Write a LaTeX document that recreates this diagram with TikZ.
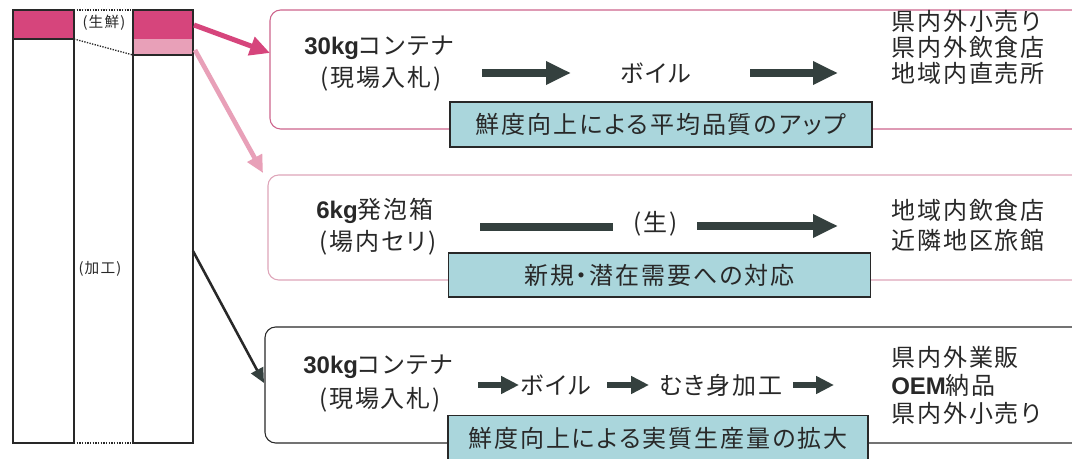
\documentclass[tikz,border=0pt]{standalone}
\usepackage{fontspec}
\setmainfont{Noto Sans CJK JP}[LetterSpace=8,RawFeature=+palt]
\newfontfamily\lat{Liberation Sans}
\usetikzlibrary{arrows.meta,fit}
\definecolor{dpink}{RGB}{214,69,124}
\definecolor{lpink}{RGB}{232,160,184}
\definecolor{bonec}{RGB}{205,100,140}
\definecolor{btwoc}{RGB}{222,165,185}
\definecolor{lblfill}{RGB}{170,214,220}
\definecolor{darr}{RGB}{52,64,62}
\definecolor{ink}{RGB}{40,40,40}
\tikzset{
  barline/.style={draw=ink, line width=0.9pt},
  dotline/.style={draw=ink, line width=1pt, dash pattern=on 1pt off 1pt},
  small/.style={font=\fontsize{11}{12}\selectfont, inner sep=0pt, text=ink},
  txt/.style={font=\fontsize{18}{20}\selectfont, inner sep=0pt, text=ink},
  bigbox/.style={rounded corners=8pt, inner sep=0pt, line width=0.8pt},
  lbl/.style={draw=ink, fill=lblfill, line width=0.9pt, inner sep=0pt,
    font=\fontsize{18}{20}\selectfont, text=ink},
  fatarrow/.style={draw=darr, line width=6pt, -{Triangle[length=18.75pt,width=16.5pt]}},
  fatline/.style={draw=darr, line width=5.5pt},
  midarrow/.style={draw=darr, line width=5.5pt, -{Triangle[length=18.75pt,width=16.5pt]}},
  slimarrow/.style={draw=darr, line width=5pt, -{Triangle[length=13.5pt,width=12.75pt]}},
  pinkarrow/.style={draw=dpink, line width=3.75pt, -{Triangle[length=15pt,width=14pt]}},
  lpinkarrow/.style={draw=lpink, line width=3.5pt, -{Triangle[length=13pt,width=12pt]}},
  blackarrow/.style={draw=ink, line width=1.9pt, -{Triangle[length=11pt,width=10pt,fill=darr,color=darr]}},
}
\begin{document}
\begin{tikzpicture}[x=0.75pt,y=-0.75pt]
\useasboundingbox (0,0) rectangle (1072,459);
\clip (0,0) rectangle (1072,459);
\fill[white] (0,0) rectangle (1072,459);

% ---- left bars ----
\fill[dpink] (13,10) rectangle (74,39);
\draw[barline] (13,10) rectangle (74,443);
\draw[barline] (13,39) -- (74,39);
\fill[dpink] (133,10) rectangle (193,39);
\fill[lpink] (133,39) rectangle (193,55);
\draw[barline] (133,10) rectangle (193,443);
\draw[barline] (133,55) -- (193,55);
\draw[dotline] (74,10) -- (133,10);
\draw[dotline] (74,39) -- (133,55);
\draw[dotline] (74,443) -- (133,443);
\node[small] (fresh) at (104,23) {(生鮮)};
\node[small] (proc) at (100,269) {(加工)};

% ---- big boxes ----
\node[bigbox, draw=bonec, fit={(270,10) (1095,129)}] (box1) {};
\node[bigbox, draw=btwoc, fit={(268,175) (1095,280)}] (box2) {};
\node[bigbox, draw=ink, fit={(265,327) (1095,443)}] (box3) {};

% ---- connectors from bar ----
\coordinate (s1) at (194,25);
\coordinate (e1) at (270,53);
\coordinate (s2) at (195,50);
\coordinate (e2) at (263,173);
\coordinate (s3) at (193,251);
\coordinate (e3) at (264,383);
\draw[pinkarrow] (s1) -- (e1);
\draw[lpinkarrow] (s2) -- (e2);
\draw[blackarrow] (s3) -- (e3);

% ---- box 1 ----
\node[txt] (c1a) at (379,48) {{\lat\bfseries 30kg}コンテナ};
\node[txt] (c1b) at (381,79) {(現場入札)};
\node[txt] (boil1) at (656,73) {ボイル};
\coordinate (a1s) at (482,73);
\coordinate (a1e) at (571,73);
\coordinate (a2s) at (750,73);
\coordinate (a2e) at (838,73);
\draw[fatarrow] (a1s) -- (a1e);
\draw[fatarrow] (a2s) -- (a2e);
\node[txt, anchor=west] (r1a) at (891,21) {県内外小売り};
\node[txt, anchor=west] (r1b) at (891,47) {県内外飲食店};
\node[txt, anchor=west] (r1c) at (891,73) {地域内直売所};
\node[lbl, minimum width=316.5pt, minimum height=33.75pt] (l1) at (661,124.5) {鮮度向上による平均品質のアップ};

% ---- box 2 ----
\node[txt] (c2a) at (375,211) {{\lat\bfseries 6kg}発泡箱};
\node[txt] (c2b) at (378,243) {(場内セリ)};
\node[txt] (nama) at (656,224) {(生)};
\coordinate (b1s) at (480,227);
\coordinate (b1e) at (613,227);
\coordinate (b2s) at (697,226);
\coordinate (b2e) at (838,226);
\draw[fatline] (b1s) -- (b1e);
\draw[midarrow] (b2s) -- (b2e);
\node[txt, anchor=west] (r2a) at (891,210) {地域内飲食店};
\node[txt, anchor=west] (r2b) at (891,240) {近隣地区旅館};
\node[lbl, minimum width=317pt, minimum height=33pt] (l2) at (659.5,275) {新規・潜在需要への対応};

% ---- box 3 ----
\node[txt] (c3a) at (378,367) {{\lat\bfseries 30kg}コンテナ};
\node[txt] (c3b) at (380,400) {(現場入札)};
\node[txt] (boil3) at (556,385) {ボイル};
\node[txt] (muki) at (721,385) {むき身加工};
\coordinate (d1s) at (478,385);
\coordinate (d1e) at (519,385);
\coordinate (d2s) at (607,385);
\coordinate (d2e) at (649,385);
\coordinate (d3s) at (793,385);
\coordinate (d3e) at (834,385);
\draw[slimarrow] (d1s) -- (d1e);
\draw[slimarrow] (d2s) -- (d2e);
\draw[slimarrow] (d3s) -- (d3e);
\node[txt, anchor=west] (r3a) at (891,357) {県内外業販};
\node[txt, anchor=west] (r3b) at (891,385) {{\lat\bfseries OEM}納品};
\node[txt, anchor=west] (r3c) at (891,413) {県内外小売り};
\node[lbl, minimum width=315pt, minimum height=34pt] (l3) at (658,438) {鮮度向上による実質生産量の拡大};
\end{tikzpicture}
\end{document}
